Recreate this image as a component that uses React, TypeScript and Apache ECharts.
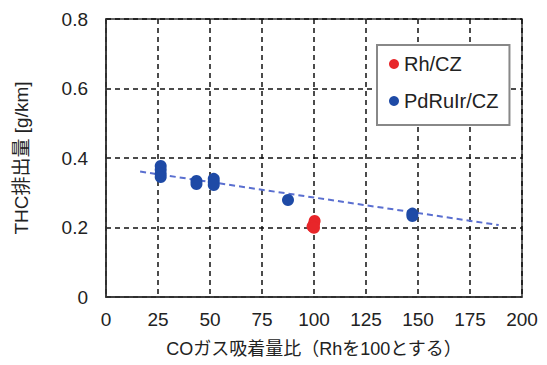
import React, { useEffect, useRef } from "react";
import * as echarts from "echarts";

const xTicks = [0, 25, 50, 75, 100, 125, 150, 175, 200];
const yTicks = [0, 0.2, 0.4, 0.6, 0.8];

const rhX = [100.3, 100.0, 99.3, 100.0];
const rhY = [0.219, 0.21, 0.203, 0.199];

const pdX = [26.3, 26.3, 26.3, 26.3, 43.5, 43.5, 51.8, 51.8, 51.8, 87.5, 147.3, 147.3];
const pdY = [0.377, 0.366, 0.355, 0.345, 0.334, 0.325, 0.34, 0.331, 0.322, 0.279, 0.24, 0.233];

const trendX = [16.4, 188.8];
const trendY = [0.361, 0.207];

const seriesNames = ["Rh/CZ", "PdRuIr/CZ"];
const xTitle = "COガス吸着量比（Rhを100とする）";
const yTitle = "THC排出量 [g/km]";

const FONT = "'Liberation Sans', Arial, 'Noto Sans CJK JP', sans-serif";

export default function App() {
  const ref = useRef<HTMLDivElement>(null);
  useEffect(() => {
    if (!ref.current) return;
    const chart = echarts.init(ref.current, undefined, { renderer: "svg" });
    const zip = (xs: number[], ys: number[]) => xs.map((x, i) => [x, ys[i]]);
    chart.setOption({
      animation: false,
      backgroundColor: "#fff",
      textStyle: { fontFamily: FONT },
      grid: {
        left: 106,
        right: 25,
        top: 19,
        bottom: 68,
        show: true,
        borderColor: "#333",
        borderWidth: 1.5,
        backgroundColor: "transparent",
      },
      legend: {
        data: seriesNames,
        orient: "vertical",
        left: 377,
        top: 45,
        icon: "circle",
        itemWidth: 10,
        itemHeight: 10,
        itemGap: 15,
        padding: [8, 11, 13, 12],
        borderColor: "#888",
        borderWidth: 2,
        backgroundColor: "#fff",
        textStyle: { fontSize: 20, color: "#222", fontFamily: FONT, lineHeight: 22 },
      },
      xAxis: {
        type: "value",
        min: xTicks[0],
        max: xTicks[xTicks.length - 1],
        interval: 25,
        name: xTitle,
        nameLocation: "middle",
        nameGap: 43,
        nameTextStyle: { fontSize: 18, color: "#222", fontFamily: FONT },
        axisLine: { show: true, lineStyle: { color: "#333", width: 1.5 } },
        axisTick: { show: false },
        axisLabel: { fontSize: 19, color: "#222", margin: 13, fontFamily: FONT },
        splitLine: { show: true, lineStyle: { color: "#111", type: [5, 4], width: 1.5 } },
      },
      yAxis: {
        type: "value",
        min: yTicks[0],
        max: yTicks[yTicks.length - 1],
        interval: 0.2,
        name: yTitle,
        nameLocation: "middle",
        nameGap: 75,
        nameTextStyle: { fontSize: 19, color: "#222", fontFamily: FONT },
        axisLine: { show: true, lineStyle: { color: "#333", width: 1.5 } },
        axisTick: { show: false },
        axisLabel: {
          fontSize: 19,
          color: "#222",
          margin: 18,
          fontFamily: FONT,
          formatter: (v: number) => (v === 0 ? "0" : v.toFixed(1)),
        },
        splitLine: { show: true, lineStyle: { color: "#111", type: [5, 4], width: 1.5 } },
      },
      series: [
        {
          name: "trend",
          type: "line",
          data: zip(trendX, trendY),
          symbol: "none",
          lineStyle: { color: "#5a6fd0", width: 2, type: [6, 4] },
          silent: true,
          z: 1,
        },
        {
          name: seriesNames[1],
          type: "scatter",
          data: zip(pdX, pdY),
          symbol: "circle",
          symbolSize: 12,
          itemStyle: { color: "#1e4aa6", opacity: 1 },
          z: 3,
        },
        {
          name: seriesNames[0],
          type: "scatter",
          data: zip(rhX, rhY),
          symbol: "circle",
          symbolSize: 12,
          itemStyle: { color: "#e8262a", opacity: 1 },
          z: 4,
        },
      ],
    });
    return () => chart.dispose();
  }, []);
  return <div ref={ref} style={{ width: 547, height: 365, position: "absolute", left: 0, top: 0 }} />;
}
